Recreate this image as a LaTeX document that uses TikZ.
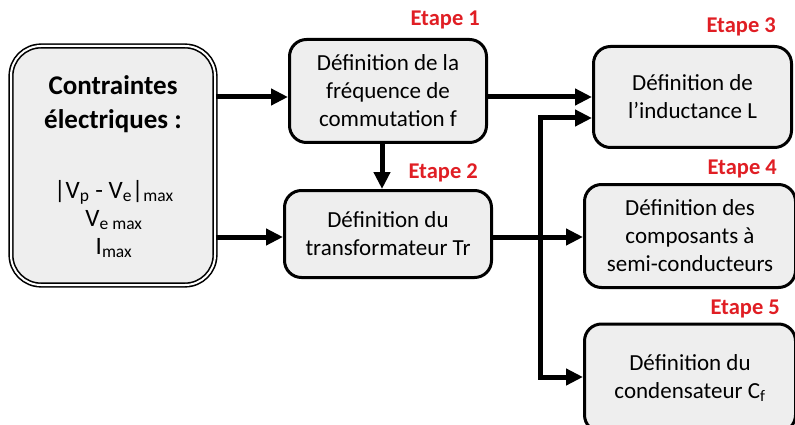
\documentclass[tikz,border=0pt]{standalone}
\usepackage{fontspec}
\setmainfont{Carlito}
\usetikzlibrary{arrows.meta}
\definecolor{boxfill}{HTML}{EEEEEE}
\definecolor{etred}{HTML}{E01E24}
\begin{document}
\begin{tikzpicture}[x=1pt,y=-1pt,
  stepbox/.style={draw=black, line width=3pt, fill=boxfill, rounded corners=17pt,
    align=center, inner sep=0pt, font=\fontsize{23}{28}\selectfont},
  etape/.style={text=etred, font=\bfseries\fontsize{22.5}{25}\selectfont, inner sep=0pt, anchor=east},
  arr/.style={line width=5pt, -{Triangle[length=17pt,width=16pt]}, line join=miter}]
\useasboundingbox (0,0) rectangle (795,425);
% left box
\node[draw=black, line width=1.6pt, double=white, double distance=2pt, fill=boxfill,
  rounded corners=30pt, minimum width=204pt, minimum height=239pt, inner sep=0pt, align=center]
  (cst) at (113,165.5) {};
\node[align=center, inner sep=0pt, font=\bfseries\fontsize{27}{34}\selectfont] (cstt) at (113,104) {Contraintes\\électriques :};
\node[align=center, inner sep=0pt, font=\fontsize{25}{28}\selectfont] (cstv) at (114,219)
  {|V\textsubscript{p} - V\textsubscript{e}|\textsubscript{max}\\V\textsubscript{e max}\\I\textsubscript{max}};
% steps
\node[stepbox, minimum width=197pt, minimum height=103pt] (f) at (388,91)
  {Définition de la\\fréquence de\\commutation f};
\node[stepbox, minimum width=207pt, minimum height=87pt] (tr) at (388,234)
  {Définition du\\transformateur Tr};
\node[stepbox, minimum width=198pt, minimum height=101pt] (L) at (692.5,97)
  {Définition de\\l’inductance L};
\node[stepbox, minimum width=211pt, minimum height=103pt] (sc) at (690,236)
  {Définition des\\composants à\\semi-conducteurs};
\node[stepbox, minimum width=211pt, minimum height=108pt] (C) at (690,378)
  {Définition du\\condensateur C\textsubscript{f}};
% labels
\node[etape] (e1) at (480,20) {Etape 1};
\node[etape] (e2) at (478,173) {Etape 2};
\node[etape] (e3) at (776,27) {Etape 3};
\node[etape] (e4) at (777,169) {Etape 4};
\node[etape] (e5) at (780,309) {Etape 5};
% connectors
\coordinate (y1) at (0,97);
\coordinate (y2) at (0,237);
\coordinate (jt) at (540,118);
\coordinate (jb) at (540,377);
\draw[arr] (cst.east |- y1) -- (f.west |- y1);
\draw[arr] (cst.east |- y2) -- (tr.west |- y2);
\draw[arr] ([xshift=-6pt]f.south) -- ([xshift=-6pt]tr.north);
\draw[arr] (f.east |- y1) -- (L.west |- y1);
\draw[arr] (tr.east |- y2) -- (sc.west |- y2);
\draw[arr] (jb) -- (jt) -- (L.west |- jt);
\draw[arr] (jt) -- (jb) -- (C.west |- jb);
\end{tikzpicture}
\end{document}
